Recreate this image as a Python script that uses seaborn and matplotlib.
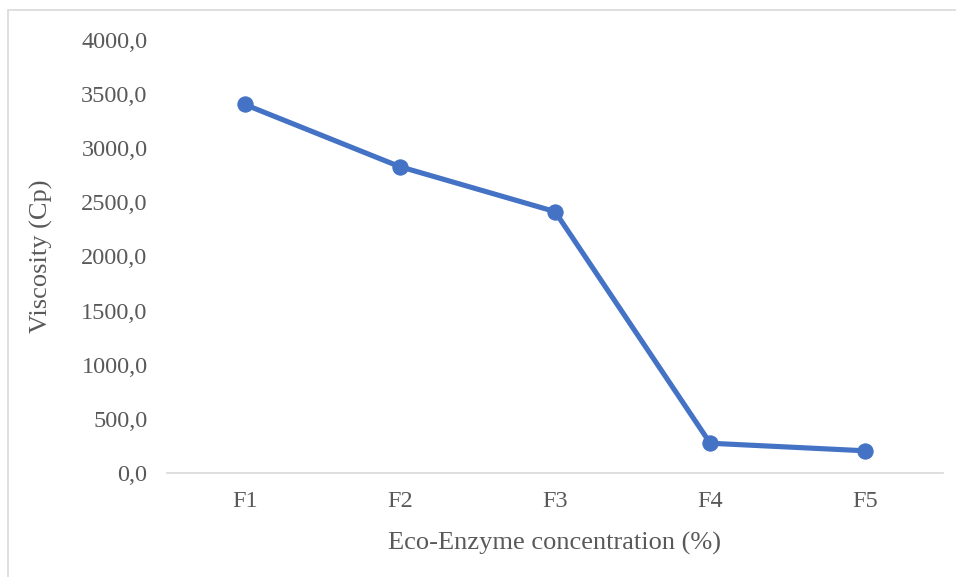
import matplotlib
matplotlib.use("Agg")
import matplotlib.pyplot as plt
import seaborn as sns
import pandas as pd
from matplotlib.patches import Rectangle
from matplotlib.ticker import FuncFormatter

categories = ["F1", "F2", "F3", "F4", "F5"]
viscosity = [3405, 2830, 2415, 275, 205]
y_ticks = [0, 500, 1000, 1500, 2000, 2500, 3000, 3500, 4000]

sns.set_theme(style="white")
plt.rcParams['font.family'] = ['Liberation Serif', 'DejaVu Serif']

df = pd.DataFrame({"cat": categories, "val": viscosity})

fig = plt.figure(figsize=(9.56, 5.77), dpi=100)
ax = fig.add_axes([167/956, 1 - 473/577, (943 - 167)/956, (473 - 40)/577])

sns.lineplot(data=df, x="cat", y="val", ax=ax, color="#4472C4", linewidth=3.7,
             marker="o", markersize=11, markeredgecolor="#4472C4", sort=False)

ax.set_xlim(-0.5, 4.5)
ax.set_ylim(0, 4000)
ax.set_yticks(y_ticks)
ax.yaxis.set_major_formatter(FuncFormatter(lambda v, p: f"{v:.1f}".replace(".", ",")))

for s in ["top", "right", "left"]:
    ax.spines[s].set_visible(False)
ax.spines["bottom"].set_color("#D9D9D9")
ax.spines["bottom"].set_linewidth(1.2)

ax.tick_params(axis="both", length=0, colors="#595959", labelsize=17.5)
ax.tick_params(axis="y", pad=14)
ax.tick_params(axis="x", pad=13)

ax.set_xlabel("Eco-Enzyme concentration (%)", fontsize=19, color="#595959", labelpad=14)
ax.set_ylabel("Viscosity (Cp)", fontsize=19, color="#595959", labelpad=20)

fig.patches.append(Rectangle((8/956, -0.1), 1.2, 1 - 9.5/577 + 0.1,
                             transform=fig.transFigure, fill=False,
                             edgecolor="#D9D9D9", linewidth=1.2))

fig.savefig("out.png", dpi=100)
